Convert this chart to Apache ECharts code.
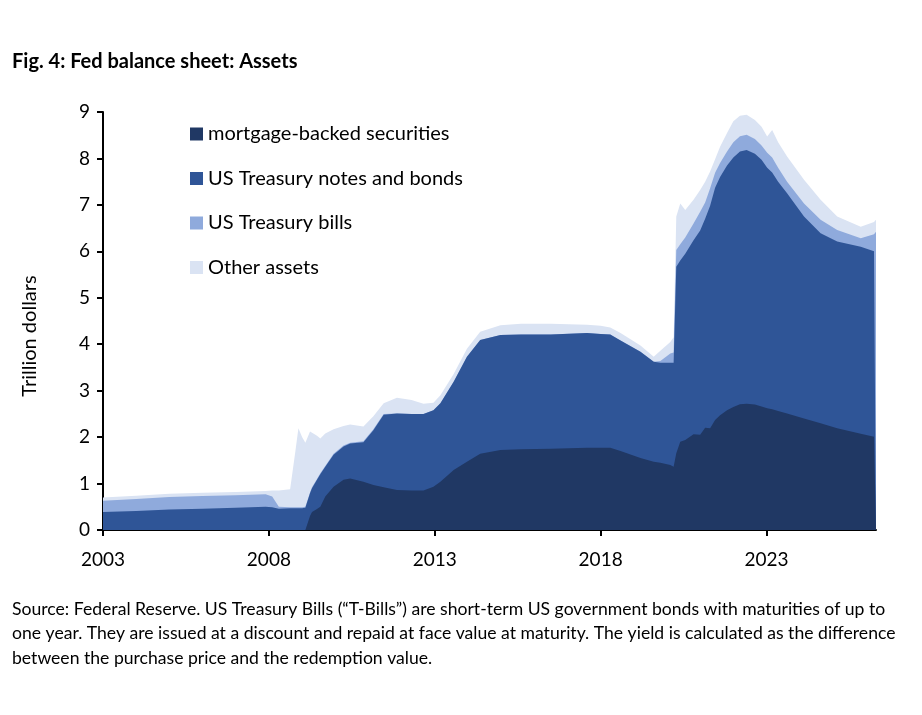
<!DOCTYPE html>
<html>
<head>
<meta charset="utf-8">
<script src="https://cdn.jsdelivr.net/npm/echarts@6/dist/echarts.min.js"></script>
<style>
  html, body { margin: 0; padding: 0; background: #fff; }
  #container { width: 922px; height: 715px; }
</style>
</head>
<body>
<div id="container"></div>
<script>
// dates as fractional years
var years = [2003.0, 2004.0, 2005.0, 2006.0, 2007.0, 2007.9, 2008.1, 2008.3, 2008.64, 2008.8,
  2008.89, 2009.0, 2009.1, 2009.24, 2009.3, 2009.45, 2009.55, 2009.7, 2009.95, 2010.25,
  2010.45, 2010.85, 2011.15, 2011.46, 2011.86, 2012.3, 2012.66, 2012.96, 2013.17, 2013.57,
  2013.97, 2014.37, 2014.98, 2015.6, 2016.5, 2017.59, 2018.0, 2018.29, 2018.6, 2019.2,
  2019.6, 2019.8, 2020.1, 2020.2, 2020.28, 2020.4, 2020.55, 2020.8, 2021.0, 2021.15,
  2021.3, 2021.45, 2021.6, 2021.81, 2022.0, 2022.2, 2022.4, 2022.65, 2022.85, 2023.02,
  2023.17, 2023.35, 2023.62, 2024.13, 2024.63, 2025.13, 2025.84, 2026.24, 2026.3];

// trillion dollars
var mbs = [0, 0, 0, 0, 0, 0, 0, 0, 0, 0,
  0, 0, 0, 0.30, 0.39, 0.45, 0.50, 0.72, 0.93, 1.08,
  1.11, 1.04, 0.97, 0.92, 0.86, 0.85, 0.85, 0.93, 1.04, 1.29,
  1.47, 1.64, 1.72, 1.74, 1.75, 1.77, 1.77, 1.77, 1.70, 1.55,
  1.47, 1.45, 1.40, 1.36, 1.65, 1.90, 1.94, 2.06, 2.05, 2.20,
  2.19, 2.37, 2.47, 2.58, 2.65, 2.71, 2.72, 2.70, 2.66, 2.62,
  2.60, 2.56, 2.51, 2.40, 2.30, 2.19, 2.07, 2.01, 2.00];

var notes = [0.39, 0.41, 0.44, 0.46, 0.48, 0.50, 0.49, 0.46, 0.47, 0.47,
  0.47, 0.47, 0.48, 0.49, 0.51, 0.63, 0.70, 0.64, 0.69, 0.72,
  0.75, 0.85, 1.18, 1.56, 1.65, 1.65, 1.65, 1.65, 1.69, 1.90,
  2.26, 2.45, 2.48, 2.47, 2.46, 2.47, 2.45, 2.44, 2.38, 2.29,
  2.15, 2.15, 2.20, 2.24, 4.02, 3.90, 4.01, 4.18, 4.40, 4.50,
  4.79, 5.00, 5.13, 5.27, 5.37, 5.44, 5.46, 5.40, 5.31, 5.18,
  5.10, 4.94, 4.74, 4.35, 4.09, 4.02, 4.03, 3.99, 3.99];

var bills = [0.24, 0.26, 0.27, 0.27, 0.27, 0.27, 0.23, 0.04, 0.02, 0.02,
  0.02, 0.02, 0.02, 0.02, 0.02, 0.02, 0.02, 0.02, 0.02, 0.02,
  0.02, 0.02, 0.02, 0.02, 0, 0, 0, 0, 0, 0,
  0, 0, 0, 0, 0, 0, 0, 0, 0, 0,
  0, 0.04, 0.20, 0.22, 0.36, 0.35, 0.35, 0.36, 0.40, 0.35,
  0.38, 0.32, 0.30, 0.30, 0.33, 0.33, 0.33, 0.32, 0.31, 0.32,
  0.32, 0.30, 0.25, 0.28, 0.29, 0.25, 0.18, 0.37, 0.43];

var other = [0.07, 0.07, 0.07, 0.07, 0.07, 0.07, 0.13, 0.35, 0.39, 1.21,
  1.70, 1.51, 1.38, 1.31, 1.16, 0.93, 0.75, 0.70, 0.53, 0.42,
  0.39, 0.32, 0.28, 0.23, 0.34, 0.30, 0.22, 0.16, 0.17, 0.17,
  0.17, 0.18, 0.21, 0.23, 0.23, 0.18, 0.18, 0.15, 0.16, 0.13,
  0.11, 0.22, 0.25, 0.33, 0.72, 0.88, 0.59, 0.51, 0.47, 0.45,
  0.36, 0.29, 0.35, 0.40, 0.45, 0.44, 0.43, 0.41, 0.40, 0.35,
  0.59, 0.55, 0.54, 0.51, 0.43, 0.29, 0.25, 0.26, 0.26];

var seriesNames = ['mortgage-backed securities', 'US Treasury notes and bonds', 'US Treasury bills', 'Other assets'];
var seriesColors = ['#203864', '#2f5597', '#8faadc', '#dae3f3'];
var xTicks = [2003, 2008, 2013, 2018, 2023];

var font = 'Lato, "Open Sans", sans-serif';

// stack by hand: each layer is drawn from zero up to its cumulative top,
// the lower layers painted over the upper ones
var layers = [mbs, notes, bills, other];
var running = years.map(function () { return 0; });
var cumulative = layers.map(function (arr) {
  running = running.map(function (v, i) { return v + arr[i]; });
  return years.map(function (y, i) { return [y, +running[i].toFixed(3)]; });
});

var dom = document.getElementById('container');
var myChart = echarts.init(dom, null, { renderer: 'canvas' });

var series = [];
for (var i = layers.length - 1; i >= 0; i--) {
  series.push({
    name: seriesNames[i],
    type: 'line',
    data: cumulative[i],
    showSymbol: false,
    symbol: 'none',
    lineStyle: { width: 0 },
    itemStyle: { color: seriesColors[i] },
    areaStyle: { color: seriesColors[i], opacity: 1, origin: 'start' },
    z: 2 + (layers.length - i)
  });
}

var option = {
  backgroundColor: '#fff',
  animation: false,
  textStyle: { fontFamily: font, color: '#000' },
  title: [{
    text: 'Fig. 4: Fed balance sheet: Assets',
    left: 7,
    top: 47,
    textStyle: { fontFamily: font, fontSize: 20, fontWeight: 'bold', color: '#000' }
  }, {
    text: 'Source: Federal Reserve. US Treasury Bills (\u201cT-Bills\u201d) are short-term US government bonds with maturities of up to\n' +
      'one year. They are issued at a discount and repaid at face value at maturity. The yield is calculated as the difference\n' +
      'between the purchase price and the redemption value.',
    left: 7,
    top: 592,
    textStyle: { fontFamily: font, fontSize: 17.6, fontWeight: 'normal', color: '#000', lineHeight: 24.5 }
  }],
  graphic: [{
    type: 'text',
    x: 30,
    y: 336,
    rotation: Math.PI / 2,
    style: {
      text: 'Trillion dollars',
      fontFamily: font,
      fontSize: 20,
      fill: '#000',
      align: 'center',
      verticalAlign: 'middle'
    }
  }],
  legend: {
    orient: 'vertical',
    left: 185,
    top: 119,
    itemWidth: 13,
    itemHeight: 13,
    itemGap: 24.5,
    icon: 'rect',
    textStyle: { fontFamily: font, fontSize: 20, color: '#000', lineHeight: 20 },
    data: seriesNames
  },
  grid: { left: 103, right: 46, top: 112, bottom: 185 },
  xAxis: {
    type: 'value',
    min: 2003,
    max: 2026.3,
    interval: 5,
    splitLine: { show: false },
    axisLine: { lineStyle: { color: '#000', width: 2 } },
    axisTick: { show: true, length: 6, lineStyle: { color: '#000', width: 2 }, customValues: xTicks },
    axisLabel: {
      fontSize: 19, color: '#000', margin: 20, customValues: xTicks,
      formatter: function (v) { return String(Math.round(v)); }
    }
  },
  yAxis: {
    type: 'value',
    min: 0,
    max: 9,
    interval: 1,
    splitLine: { show: false },
    axisLine: { show: true, lineStyle: { color: '#000', width: 2 } },
    axisTick: { show: true, length: 6, lineStyle: { color: '#000', width: 2 } },
    axisLabel: { fontSize: 19, color: '#000', margin: 13 }
  },
  series: series
};

myChart.setOption(option);
window.addEventListener('resize', myChart.resize);
</script>
</body>
</html>
